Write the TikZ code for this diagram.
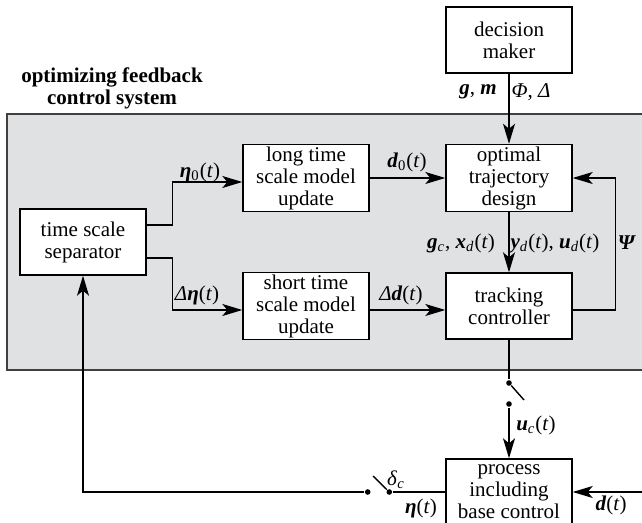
\documentclass[tikz,border=0pt]{standalone}
\usepackage{fontspec}
\setmainfont{Liberation Serif}
\usetikzlibrary{arrows.meta}
\definecolor{sysgray}{RGB}{224,225,227}
\newcommand{\bv}[1]{\textbf{\textit{#1}}}
\newcommand{\sub}[1]{\textsubscript{#1}}
\tikzset{every node/.style={font=\fontsize{10.5pt}{11pt}\selectfont}}
\tikzset{block/.style={draw,fill=white,minimum width=63pt,minimum height=33pt,inner sep=1pt,align=center}}

\begin{document}
\begin{tikzpicture}[x=0.5pt,y=-0.5pt,line width=0.7pt,
        sig/.style={-{Stealth[length=10pt,width=6pt,inset=2.5pt]}},
        dot/.style={circle,fill,inner sep=0pt,minimum size=2.8pt}]
    \useasboundingbox (0,0) rectangle (642,523);
    \filldraw[fill=sysgray,draw=black!75] (7,114) rectangle (660,370);
    \node[align=center,font=\bfseries\fontsize{10.5pt}{11pt}\selectfont] (title) at (112,88) {optimizing feedback\\control system};

    \node[block] (dm) at (509,40) {decision\\maker};
    \node[block] (lts) at (306,178) {long time\\scale model\\update};
    \node[block] (otd) at (509,178) {optimal\\trajectory\\design};
    \node[block] (tss) at (83,242) {time scale\\separator};
    \node[block] (sts) at (306,306) {short time\\scale model\\update};
    \node[block] (tc) at (509,306) {tracking\\controller};
    \node[block] (proc) at (509,492) {process\\including\\base control};

    \node[dot] (s1a) at (509,383) {};
    \node[dot] (s1b) at (509,404) {};
    \coordinate (s1c) at (524,400);
    \node[dot] (s2a) at (367.7,492) {};
    \node[dot] (s2b) at (389.3,492) {};
    \coordinate (s2c) at (373,476);
    \coordinate (din) at (645,492);

    \draw[sig] (dm) -- (otd);
    \draw[sig] (lts) -- (otd);
    \draw[sig] ([yshift=8.5pt]tss.east) -- ++(25.7,0) |- ([yshift=-2pt]lts.west);
    \draw[sig] ([yshift=-8pt]tss.east) -- ++(25.7,0) |- ([yshift=-2pt]sts.west);
    \draw[sig] ([yshift=-2pt]sts.east) -- ([yshift=-2pt]tc.west);
    \draw[sig] (otd) -- (tc);
    \draw[sig] ([yshift=-2pt]tc.east) -- ++(42.6,0) |- (otd.east);
    \draw (tc) -- (s1a);
    \draw (s1a) -- (s1c);
    \draw[sig] (s1b) -- (proc);
    \draw[sig] (din) -- (proc.east);
    \draw (proc.west) -- (s2b);
    \draw (s2b) -- (s2c);
    \draw[sig] (s2a) -| (tss);

    \node (lgm) at (478,92) {\bv{g}, \bv{m}};
    \node (lphi) at (531,92) {\textit{Φ}, \textit{Δ}};
    \node (leta0) at (200,172) {\bv{η}\sub{0}(\textit{t})};
    \node (ld0) at (407,162) {\bv{d}\sub{0}(\textit{t})};
    \node (ldeta) at (197,295) {\textit{Δ}\bv{η}(\textit{t})};
    \node (ldd) at (401,295) {\textit{Δ}\bv{d}(\textit{t})};
    \node (lgx) at (461,243) {\bv{g}\sub{\textit{c}}, \bv{x}\sub{\textit{d}}(\textit{t})};
    \node (lyu) at (555,243) {\bv{y}\sub{\textit{d}}(\textit{t}), \bv{u}\sub{\textit{d}}(\textit{t})};
    \node (lpsi) at (627,243) {\bv{Ψ}};
    \node (luc) at (536,425) {\bv{u}\sub{\textit{c}}(\textit{t})};
    \node (ldc) at (396,480) {\textit{δ}\sub{\textit{c}}};
    \node (leta) at (421,508) {\bv{η}(\textit{t})};
    \node (ld) at (611,505) {\bv{d}(\textit{t})};
\end{tikzpicture}
\end{document}
